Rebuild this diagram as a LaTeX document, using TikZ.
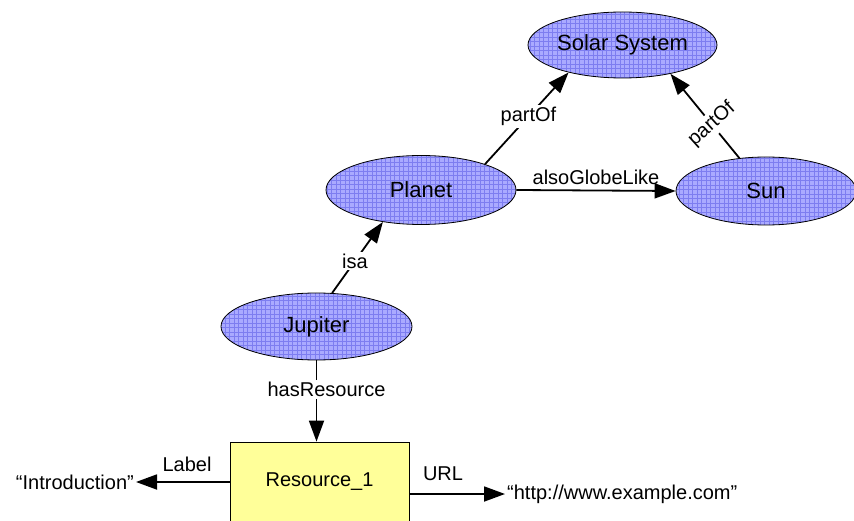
\documentclass[tikz,border=0pt]{standalone}
\usepackage{fontspec}
\setmainfont{Liberation Sans}
\usetikzlibrary{arrows.meta,shapes.geometric}
\definecolor{ellfill}{RGB}{170,170,255}
\definecolor{ellgrid}{RGB}{125,125,240}
\definecolor{resfill}{RGB}{255,255,153}
\begin{document}
\begin{tikzpicture}[x=1pt,y=-1pt,
  concept/.style={ellipse, draw=black, line width=0.8pt, fill=ellfill, inner sep=0pt,
    font=\fontsize{22}{24}\selectfont,
    path picture={\draw[ellgrid, line width=0.55pt, step=4.5pt]
      (path picture bounding box.south west) grid (path picture bounding box.north east);}},
  resbox/.style={rectangle, draw=black, line width=0.8pt, fill=resfill, inner sep=0pt,
    font=\fontsize{20}{22}\selectfont},
  txt/.style={inner sep=2pt, font=\fontsize{20}{22}\selectfont},
  lbl/.style={inner sep=2pt, font=\fontsize{20}{22}\selectfont},
  arr/.style={-{Triangle[length=21pt,width=15pt]}, line width=1.8pt}]
\clip (0,0) rectangle (854,521);
\fill[white] (0,0) rectangle (854,521);
\node[concept, minimum width=189pt, minimum height=66pt] (sol) at (622.5,45) {Solar System};
\node[concept, minimum width=190pt, minimum height=69pt] (pla) at (421,190) {Planet};
\node[concept, minimum width=180pt, minimum height=68pt] (sun) at (766,191) {Sun};
\node[concept, minimum width=191pt, minimum height=67pt] (jup) at (316.5,326.5) {Jupiter};
\node[resbox, minimum width=179pt, minimum height=80pt] (res) at (319.5,482) {Resource\_1};
\node[txt, anchor=east] (intro) at (136,482) {“Introduction”};
\node[txt, anchor=west] (url) at (505,494) {“http://www.example.com”};
\node[lbl] (lab) at (187,464) {Label};
\node[lbl] (urll) at (443,474) {URL};
\draw[arr] (jup.65) -- node[lbl, fill=white, pos=0.45]{isa} (pla.220);
\draw[arr] (pla.22) -- node[lbl, fill=white, pos=0.52]{partOf} (sol.207);
\draw[arr] (sun.129) -- node[lbl, fill=white, rotate=42, pos=0.4]{partOf} (sol.329);
\draw[arr] (pla.east) -- node[lbl, above=3pt]{alsoGlobeLike} (sun.west);
\draw[arr] (jup.south) -- node[lbl, fill=white, xshift=10pt, pos=0.36]{hasResource} (res.north -| jup.south);
\draw[arr] (res.west) -- (intro.east);
\draw[arr] (res.east |- url.west) -- (url.west);
\end{tikzpicture}
\end{document}
